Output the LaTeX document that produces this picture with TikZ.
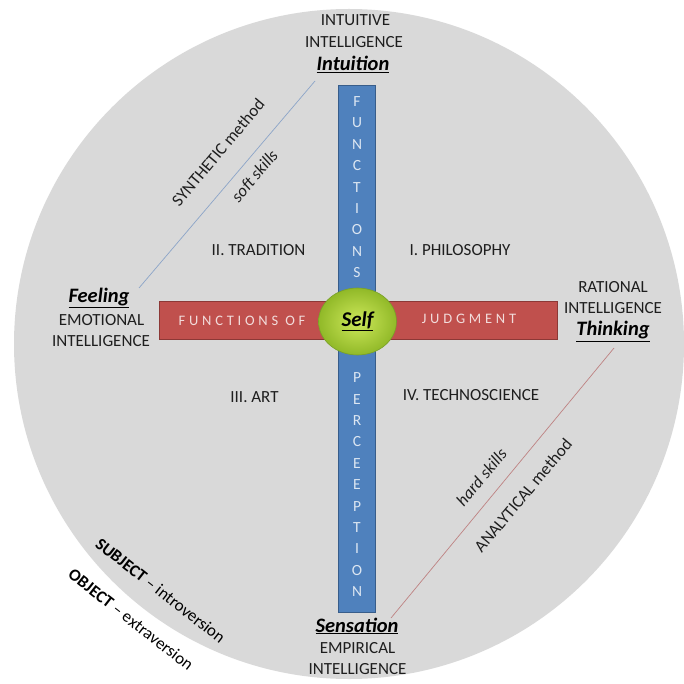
\documentclass[tikz,border=0pt]{standalone}
\usepackage{fontspec}
\setmainfont{Carlito}
\usetikzlibrary{shapes.geometric}
\definecolor{bg}{RGB}{217,217,217}
\definecolor{txt}{RGB}{30,30,30}
\definecolor{barblue}{RGB}{79,129,189}
\definecolor{barblueb}{RGB}{56,93,138}
\definecolor{barred}{RGB}{192,80,77}
\definecolor{barredb}{RGB}{140,56,54}
\definecolor{bluelet}{RGB}{220,230,242}
\definecolor{redlet}{RGB}{242,220,219}
\definecolor{synline}{RGB}{140,165,200}
\definecolor{analine}{RGB}{190,130,130}
\begin{document}
\begin{tikzpicture}[x=1pt,y=-1pt,
  lbl/.style={font=\fontsize{17}{21}\selectfont, text=txt, inner sep=0pt},
  key/.style={font=\fontsize{20.5}{24}\selectfont\bfseries\itshape, text=black, inner sep=0pt},
  rlbl/.style={font=\fontsize{17}{21}\selectfont, text=txt, inner sep=0pt, rotate=50},
  diag/.style={font=\fontsize{17}{21}\selectfont, text=black, inner sep=0pt, rotate=-38},
  vl/.style={font=\fontsize{15.5}{17}\selectfont, text=bluelet, inner sep=0pt},
  hl/.style={font=\fontsize{14.5}{16}\selectfont\addfontfeature{LetterSpace=26}, text=redlet, inner sep=0pt}]
\useasboundingbox (0,0) rectangle (684,684);
\fill[bg] (349,344) circle (335pt);
% bars
\node[draw=barblueb, fill=barblue, line width=0.8pt, minimum width=37.5pt, minimum height=527pt, inner sep=0pt] (vbar) at (357,348.5) {};
\node[draw=barredb, fill=barred, line width=0.8pt, minimum width=398pt, minimum height=38pt, inner sep=0pt] (hbar) at (358,320) {};
\foreach \l [count=\i] in {F,U,N,C,T,I,O,N,S}
  \node[vl] (fn\i) at (357,{101.6+21.4*(\i-1)}) {\l};
\foreach \l [count=\i] in {P,E,R,C,E,E,P,T,I,O,N}
  \node[vl] (pc\i) at (357,{377.7+21.4*(\i-1)}) {\l};
\node[hl] (funof) at (242,320.5) {FUNCTIONS OF};
\node[hl] (judg) at (469,319) {JUDGMENT};
% self
\node[ellipse, minimum width=78pt, minimum height=67pt, draw={rgb,255:red,120;green,160;blue,40}, line width=0.6pt,
  inner color={rgb,255:red,205;green,232;blue,90}, outer color={rgb,255:red,145;green,185;blue,40},
  font=\fontsize{21}{24}\selectfont\bfseries\itshape, text=black] (self) at (357.5,321.5) {\underline{Self}};
% poles
\node[lbl] (intu1) at (355.5,20.5) {INTUITIVE};
\node[lbl] (intu2) at (354,42) {INTELLIGENCE};
\node[key] (intu) at (353,64.5) {\underline{Intuition}};
\node[key] (feel) at (99,298) {\underline{Feeling}};
\node[lbl] (feel1) at (101.5,320.5) {EMOTIONAL};
\node[lbl] (feel2) at (101,341) {INTELLIGENCE};
\node[lbl] (thin1) at (613,287) {RATIONAL};
\node[lbl] (thin2) at (613,308) {INTELLIGENCE};
\node[key] (thin) at (613,331.5) {\underline{Thinking}};
\node[key] (sens) at (357,626) {\underline{Sensation}};
\node[lbl] (sens1) at (357.5,648.5) {EMPIRICAL};
\node[lbl] (sens2) at (357.5,669.5) {INTELLIGENCE};
% quadrants
\node[lbl] (q2) at (258.5,250.5) {II. TRADITION};
\node[lbl] (q1) at (460,250.5) {I. PHILOSOPHY};
\node[lbl] (q3) at (254.5,397) {III. ART};
\node[lbl] (q4) at (471,395) {IV. TECHNOSCIENCE};
% method lines
\coordinate (synA) at (315,81);
\coordinate (synB) at (139,288);
\coordinate (anaA) at (614,348);
\coordinate (anaB) at (391,618);
\draw[synline, line width=0.7pt] (synA) -- (synB);
\draw[analine, line width=0.7pt] (anaA) -- (anaB);
\node[rlbl] (synm) at (218,152.5) {SYNTHETIC method};
\node[rlbl, font=\fontsize{17}{21}\selectfont\itshape] (soft) at (254.5,176) {soft skills};
\node[rlbl, font=\fontsize{17}{21}\selectfont\itshape] (hard) at (481.5,477) {hard skills};
\node[rlbl] (anam) at (523,495.5) {ANALYTICAL method};
% subject / object
\node[diag] (subj) at (160.5,590.5) {\textbf{SUBJECT} -- introversion};
\node[diag] (obj) at (131,619.5) {\textbf{OBJECT} -- extraversion};
\end{tikzpicture}
\end{document}
